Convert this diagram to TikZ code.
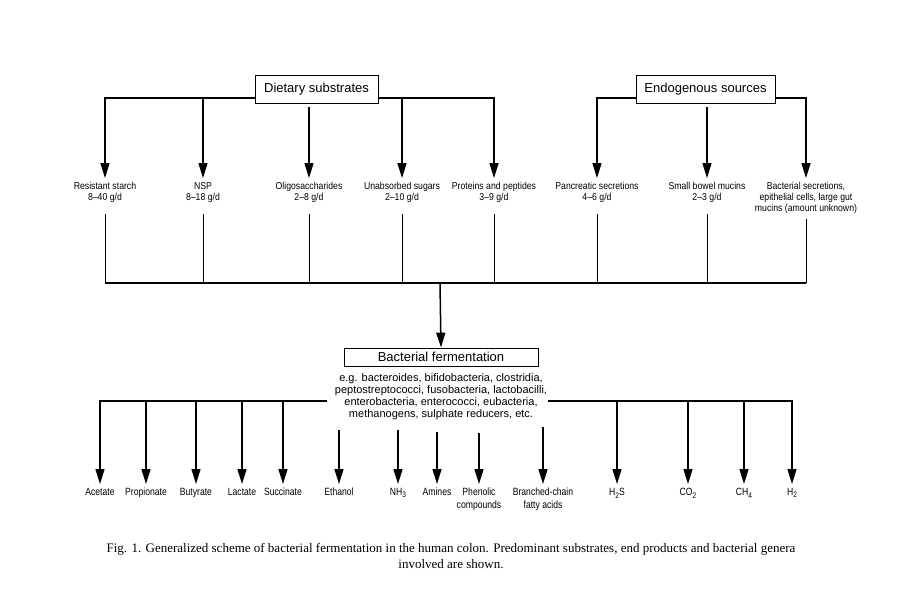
\documentclass[tikz,border=0pt]{standalone}
\usepackage{fontspec}
\setmainfont{Liberation Serif}
\newfontfamily\hv{Liberation Sans}
\newfontfamily\hvt[FakeStretch=0.87]{Liberation Sans}
\newfontfamily\hvb[FakeStretch=0.82]{Liberation Sans}
\usetikzlibrary{arrows.meta}
\newcommand\lowsub[1]{\raisebox{-2.5pt}{\fontsize{8}{8}\selectfont #1}}
\begin{document}
\begin{tikzpicture}[x=1pt,y=-1pt,
  src/.style={draw,line width=0.8pt,inner sep=0pt,font=\hv\fontsize{13}{15}\selectfont},
  toplab/.style={anchor=north,align=center,inner xsep=1pt,inner ysep=4pt,font=\hvt\fontsize{10}{11}\selectfont},
  botlab/.style={anchor=north,align=center,inner xsep=1pt,inner ysep=4pt,font=\hvb\fontsize{10.5}{13}\selectfont},
  arr/.style={line width=1.5pt,-{Triangle[width=9pt,length=15pt]}},
  busline/.style={line width=1.5pt},
  feed/.style={line width=0.9pt}]
\useasboundingbox (0,0) rectangle (911,603);
% source boxes
\node[src,minimum width=123pt,minimum height=28pt] (ds) at (316.5,89) {Dietary substrates};
\node[src,minimum width=139pt,minimum height=28pt] (es) at (705.5,89) {Endogenous sources};
% substrate labels
\node[toplab] (rs) at (105,178) {Resistant starch\\8–40 g/d};
\node[toplab] (nsp) at (203,178) {NSP\\8–18 g/d};
\node[toplab] (oligo) at (309,178) {Oligosaccharides\\2–8 g/d};
\node[toplab] (unabs) at (402,178) {Unabsorbed sugars\\2–10 g/d};
\node[toplab] (prot) at (494,178) {Proteins and peptides\\3–9 g/d};
\node[toplab] (panc) at (597,178) {Pancreatic secretions\\4–6 g/d};
\node[toplab] (sbm) at (707,178) {Small bowel mucins\\2–3 g/d};
\node[toplab] (bsec) at (806,178) {Bacterial secretions,\\epithelial cells, large gut\\mucins (amount unknown)};
% arrows from sources
\draw[arr] (ds.west |- 0,98) -| (rs.north);
\draw[arr] (nsp.north |- 0,98) -- (nsp.north);
\draw[arr] (oligo.north |- 0,107) -- (oligo.north);
\draw[arr] (ds.east |- 0,98) -| (prot.north);
\draw[arr] (unabs.north |- 0,98) -- (unabs.north);
\draw[arr] (es.west |- 0,98) -| (panc.north);
\draw[arr] (sbm.north |- 0,107) -- (sbm.north);
\draw[arr] (es.east |- 0,98) -| (bsec.north);
% collecting bus
\coordinate (bus) at (440,283);
\foreach \X in {rs,nsp,oligo,unabs,prot,panc,sbm}
  \draw[feed] (\X.south |- 0,214) -- (\X.south |- bus);
\draw[feed] (bsec.south |- 0,219) -- (bsec.south |- bus);
\draw[busline] (rs.south |- bus) -- (bsec.south |- bus);
% fermentation
\node[draw,line width=0.8pt,minimum width=194pt,minimum height=18pt,inner sep=0pt,
      font=\hv\fontsize{13}{15}\selectfont] (bf) at (441,357) {Bacterial fermentation};
\draw[arr] (bus) -- (bf.north);
\node[align=center,inner sep=0pt,font=\hv\fontsize{11}{12}\selectfont] (gen) at (441,397)
  {e.g. bacteroides, bifidobacteria, clostridia,\\peptostreptococci, fusobacteria, lactobacilli,\\enterobacteria, enterococci, eubacteria,\\methanogens, sulphate reducers, etc.};
\coordinate (bl) at (327,401);
\coordinate (br) at (548,401);
% products
\node[botlab] (ac) at (100,484) {Acetate};
\node[botlab] (pr) at (146,484) {Propionate};
\node[botlab] (bu) at (196,484) {Butyrate};
\node[botlab] (la) at (242,484) {Lactate};
\node[botlab] (su) at (283,484) {Succinate};
\node[botlab] (et) at (339,484) {Ethanol};
\node[botlab] (nh) at (398,484) {NH\lowsub{3}};
\node[botlab] (am) at (437,484) {Amines};
\node[botlab] (ph) at (479,484) {Phenolic\\compounds};
\node[botlab] (bc) at (543,484) {Branched-chain\\fatty acids};
\node[botlab] (hs) at (617,484) {H\lowsub{2}S};
\node[botlab] (co) at (688,484) {CO\lowsub{2}};
\node[botlab] (ch) at (744,484) {CH\lowsub{4}};
\node[botlab] (hh) at (792,484) {H\lowsub{2}};
\draw[arr] (bl) -| (ac.north);
\foreach \X in {pr,bu,la,su}
  \draw[arr] (\X.north |- bl) -- (\X.north);
\draw[arr] (br) -| (hh.north);
\foreach \X in {hs,co,ch}
  \draw[arr] (\X.north |- br) -- (\X.north);
\draw[arr] (et.north |- 0,430) -- (et.north);
\draw[arr] (nh.north |- 0,430) -- (nh.north);
\draw[arr] (am.north |- 0,432) -- (am.north);
\draw[arr] (ph.north |- 0,433) -- (ph.north);
\draw[arr] (bc.north |- 0,427) -- (bc.north);
% caption
\node[align=center,inner sep=0pt,font=\fontsize{13}{15.5}\selectfont] (cap) at (451,556)
  {Fig. 1. Generalized scheme of bacterial fermentation in the human colon. Predominant substrates, end products and bacterial genera\\involved are shown.};
\end{tikzpicture}
\end{document}
